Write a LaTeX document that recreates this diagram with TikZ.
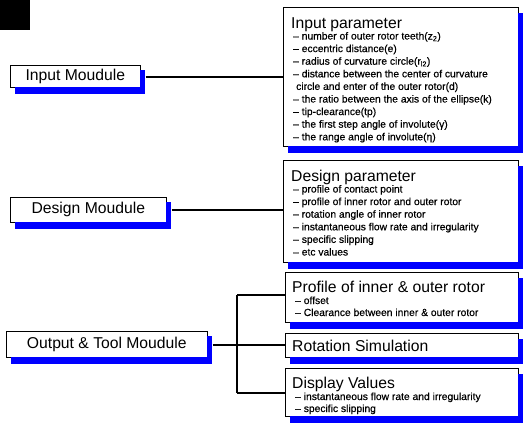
\documentclass[tikz,border=0pt]{standalone}
\usepackage{fontspec}
\setmainfont{Liberation Sans}
\newfontfamily\itemfont[FakeBold=0.5]{Liberation Sans}
\definecolor{shadcol}{RGB}{0,0,255}
\begin{document}
\begin{tikzpicture}[x=1pt,y=-1pt,
  boxline/.style={draw=black, line width=0.6pt, fill=white},
  modbox/.style={boxline, inner sep=0pt, anchor=north west,
     font=\fontsize{15.7}{18}\selectfont},
  parbox/.style={boxline, inner sep=0pt, anchor=north west},
  shad/.style={fill=shadcol},
  titletxt/.style={inner sep=0pt, anchor=base west, font=\fontsize{15.7}{18}\selectfont},
  itemtxt/.style={inner sep=0pt, anchor=base west, font=\itemfont\fontsize{10.3}{12.6}\selectfont},
  conn/.style={line width=1.5pt, black}
]
\useasboundingbox (0,0) rectangle (523,423);
\fill[black] (0,0) rectangle (30,30);

% left module boxes
\node[modbox, minimum width=130pt, minimum height=22pt] (inmod) at (10,65) {Input Moudule};
\node[modbox, minimum width=156pt, minimum height=25pt] (desmod) at (10,197) {Design Moudule};
\node[modbox, minimum width=201pt, minimum height=26pt] (outmod) at (6,331) {Output \& Tool Moudule};

% right parameter boxes
\node[parbox, minimum width=235pt, minimum height=139pt] (inpar) at (283,7) {};
\node[parbox, minimum width=235pt, minimum height=102pt] (despar) at (283,160) {};
\node[parbox, minimum width=233pt, minimum height=50pt] (prof) at (285,272) {};
\node[parbox, minimum width=233pt, minimum height=24pt] (rot) at (285,333) {};
\node[parbox, minimum width=233pt, minimum height=48pt] (disp) at (285,368) {};

% shadows: right and bottom strips just outside each box
\fill[shad] (140.3,70) rectangle (145,93.5);  \fill[shad] (15,87.3) rectangle (145,93.5);
\fill[shad] (166.3,202) rectangle (171,228.5); \fill[shad] (15,222.3) rectangle (171,228.5);
\fill[shad] (207.3,336) rectangle (212,363.5); \fill[shad] (11,357.3) rectangle (212,363.5);
\fill[shad] (518.3,13) rectangle (523,153);    \fill[shad] (288,146.3) rectangle (523,153);
\fill[shad] (518.3,166) rectangle (523,269);   \fill[shad] (288,262.3) rectangle (523,269);
\fill[shad] (518.3,278) rectangle (523,329);   \fill[shad] (290,322.3) rectangle (523,329);
\fill[shad] (518.3,339) rectangle (523,364);   \fill[shad] (290,357.3) rectangle (523,364);
\fill[shad] (518.3,374) rectangle (523,423);   \fill[shad] (290,416.3) rectangle (523,423);

% Input parameter texts
\node[titletxt] (inpar-t) at (291,28) {Input parameter};
\node[itemtxt] (ip1) at (293,39.5) {– number of outer rotor teeth(z\textsubscript{2})};
\node[itemtxt] (ip2) at (293,52.1) {– eccentric distance(e)};
\node[itemtxt] (ip3) at (293,64.7) {– radius of curvature circle(r\textsubscript{l2})};
\node[itemtxt] (ip4) at (293,77.3) {– distance between the center of curvature};
\node[itemtxt] (ip5) at (296,89.9) {circle and enter of the outer rotor(d)};
\node[itemtxt] (ip6) at (293,102.5) {– the ratio between the axis of the ellipse(k)};
\node[itemtxt] (ip7) at (293,115.1) {– tip-clearance(tp)};
\node[itemtxt] (ip8) at (293,127.7) {– the first step angle of involute(γ)};
\node[itemtxt] (ip9) at (293,140.3) {– the range angle of involute(η)};

% Design parameter texts
\node[titletxt] (despar-t) at (291,181) {Design parameter};
\node[itemtxt] (dp1) at (293,192.5) {– profile of contact point};
\node[itemtxt] (dp2) at (293,205.1) {– profile of inner rotor and outer rotor};
\node[itemtxt] (dp3) at (293,217.7) {– rotation angle of inner rotor};
\node[itemtxt] (dp4) at (293,230.3) {– instantaneous flow rate and irregularity};
\node[itemtxt] (dp5) at (293,242.9) {– specific slipping};
\node[itemtxt] (dp6) at (293,255.5) {– etc values};

% Output boxes texts
\node[titletxt] (prof-t) at (292,292) {Profile of inner \& outer rotor};
\node[itemtxt] (pr1) at (295,304) {– offset};
\node[itemtxt] (pr2) at (295,316) {– Clearance between inner \& outer rotor};
\node[titletxt] (rot-t) at (292,351) {Rotation Simulation};
\node[titletxt] (disp-t) at (292,388) {Display Values};
\node[itemtxt] (ds1) at (295,400) {– instantaneous flow rate and irregularity};
\node[itemtxt] (ds2) at (295,412) {– specific slipping};

% connectors
\coordinate (j) at (237,345);
\coordinate (jt) at (237,295);
\coordinate (jb) at (237,393);
\draw[conn] (inmod.east |- 0,77) ++(5,0) -- (inpar.west |- 0,77);
\draw[conn] (desmod.east |- 0,210) ++(5,0) -- (despar.west |- 0,210);
\draw[conn] (outmod.east |- j) ++(5,0) -- (j);
\draw[conn] (jt) -- (jb);
\draw[conn] (jt) -- (prof.west |- jt);
\draw[conn] (j) -- (rot.west |- j);
\draw[conn] (jb) -- (disp.west |- jb);
\end{tikzpicture}
\end{document}
